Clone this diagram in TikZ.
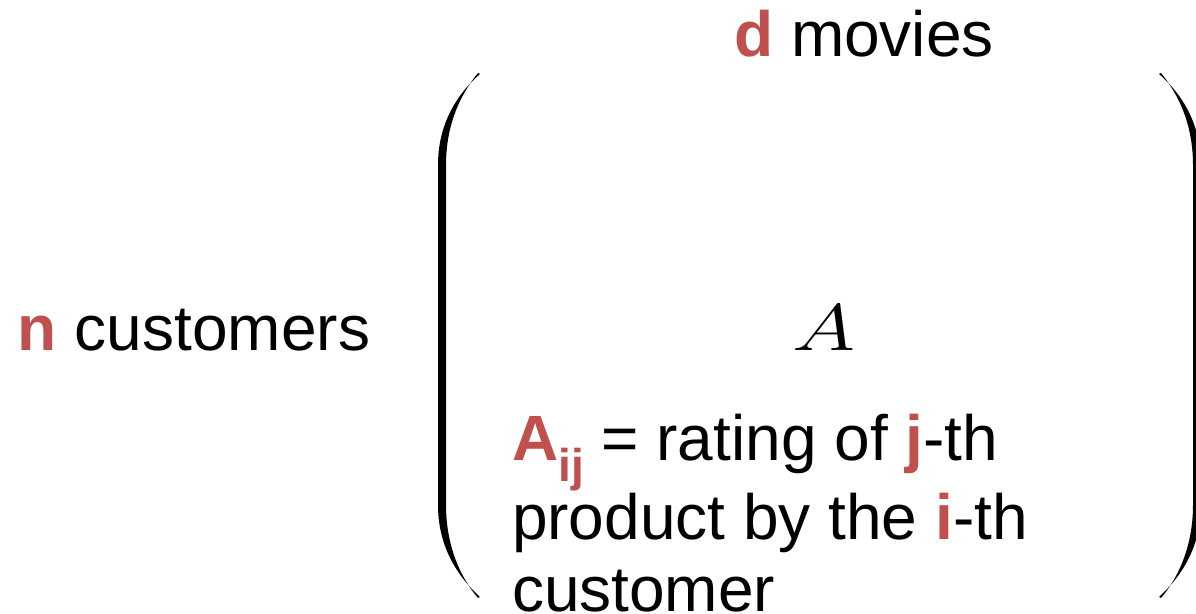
\RequirePackage{fix-cm}
\documentclass[tikz,border=0pt]{standalone}
\usepackage{fontspec}
\setmainfont{Liberation Sans}
\definecolor{rouge}{RGB}{192,80,77}
\newcommand{\gras}[1]{\textcolor{rouge}{\textbf{#1}}}
\newcommand{\indice}[1]{\raisebox{-10.5pt}{\fontsize{23}{23}\selectfont\gras{#1}}}
\newcommand{\paren}[2]{\fill[shift={(#1,0)},xscale=#2] (2,74)
 	.. controls (-22,95) and (-40,125) .. (-40,165) -- (-40,505)
 	.. controls (-40,545) and (-22,575) .. (2,597) -- (0,598)
 	.. controls (-18,577) and (-32,545) .. (-32,505) -- (-32,165)
 	.. controls (-32,125) and (-18,95) .. (0,73) -- cycle}

\begin{document}
\begin{tikzpicture}[x=0.5pt, y=-0.5pt, every node/.style={inner sep=0pt, outer sep=0pt, font=\fontsize{32}{36}\selectfont}]
%Frame
	\useasboundingbox (0,0) rectangle (1196,614);
	\clip (0,0) rectangle (1196,614);
%Parentheses
	\paren{478}{1};
	\paren{1161}{-1};
%Labels
	\node[anchor=base] (movies) at (864,57) {\gras{d} movies};
	\node[anchor=base west] (customers) at (18,351) {\gras{n} customers};
	\node[anchor=base, xscale=1.3, font=\fontsize{33}{36}\selectfont] (matrix) at (824,351) {$A$};
%Definition of the entries
	\node[anchor=north west, align=left] (rating) at (512,414)
		{\gras{A}\indice{ij} = rating of \gras{j}-th\\
		product by the \gras{i}-th\\
		customer};
\end{tikzpicture}
\end{document}
